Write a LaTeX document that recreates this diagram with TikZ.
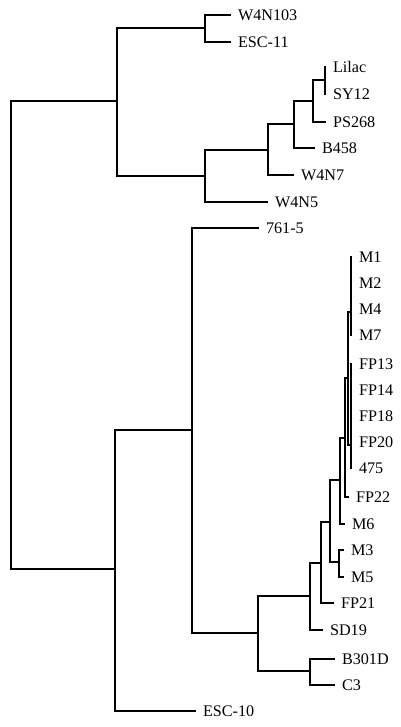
\documentclass[tikz,border=0pt]{standalone}
\usepackage{fontspec}
\setmainfont{Liberation Serif}
\usetikzlibrary{positioning}

\begin{document}
\begin{tikzpicture}[x=0.025cm,y=-0.025cm,
    leaf/.style={anchor=west,inner xsep=5.5pt,inner ysep=1pt,font=\fontsize{11.5}{13}\selectfont},
    branch/.style={line width=1.1pt,line cap=rect},
    elbow/.style={to path={|- (\tikztotarget)}}]
   \useasboundingbox (0,0) rectangle (400,727);
   % leaves
   \node[leaf] (w4n103) at (230,15)  {W4N103};
   \node[leaf] (esc11)  at (230,42)  {ESC-11};
   \node[leaf] (lilac)  at (325,67)  {Lilac};
   \node[leaf] (sy12)   at (325,94)  {SY12};
   \node[leaf] (ps268)  at (325,122) {PS268};
   \node[leaf] (b458)   at (314,148) {B458};
   \node[leaf] (w4n7)   at (293,175) {W4N7};
   \node[leaf] (w4n5)   at (267,202) {W4N5};
   \node[leaf] (s761)   at (258,228) {761-5};
   \node[leaf] (m1)     at (351,257) {M1};
   \node[leaf] (m2)     at (351,283) {M2};
   \node[leaf] (m4)     at (351,309) {M4};
   \node[leaf] (m7)     at (351,335) {M7};
   \node[leaf] (fp13)   at (351,364) {FP13};
   \node[leaf] (fp14)   at (351,390) {FP14};
   \node[leaf] (fp18)   at (351,416) {FP18};
   \node[leaf] (fp20)   at (351,442) {FP20};
   \node[leaf] (s475)   at (351,468) {475};
   \node[leaf] (fp22)   at (348,497) {FP22};
   \node[leaf] (m6)     at (344,524) {M6};
   \node[leaf] (m3)     at (343,550) {M3};
   \node[leaf] (m5)     at (343,577) {M5};
   \node[leaf] (fp21)   at (333,603) {FP21};
   \node[leaf] (sd19)   at (322,630) {SD19};
   \node[leaf] (b301d)  at (334,659) {B301D};
   \node[leaf] (c3)     at (334,685) {C3};
   \node[leaf] (esc10)  at (195,711) {ESC-10};
   % inner nodes
   \coordinate (root) at (11,335);
   \coordinate (u)    at (117,101);
   \coordinate (u_1)  at (205,28);
   \coordinate (u_2)  at (205,176);
   \coordinate (u_3)  at (268,150);
   \coordinate (u_4)  at (294,124);
   \coordinate (u_5)  at (313,101);
   \coordinate (u_6)  at (325,80);
   \coordinate (l)    at (115,569);
   \coordinate (l_1)  at (192,430);
   \coordinate (l_2)  at (258,633);
   \coordinate (l_3)  at (310,596);
   \coordinate (l_4)  at (310,671);
   \coordinate (l_5)  at (321,563);
   \coordinate (l_6)  at (330,522);
   \coordinate (l_7)  at (340,480);
   \coordinate (l_8)  at (345,438);
   \coordinate (l_9)  at (348,378);
   \coordinate (m35)  at (339,562);
   \coordinate (ma)   at (351,312);
   \coordinate (fpb)  at (351,445);
    \path[branch]
    (root) edge[elbow] (u)
    (root) edge[elbow] (l)
    (u) edge[elbow] (u_1)
    (u) edge[elbow] (u_2)
    (u_1) edge[elbow] (w4n103.west)
    (u_1) edge[elbow] (esc11.west)
    (u_2) edge[elbow] (u_3)
    (u_2) edge[elbow] (w4n5.west)
    (u_3) edge[elbow] (u_4)
    (u_3) edge[elbow] (w4n7.west)
    (u_4) edge[elbow] (u_5)
    (u_4) edge[elbow] (b458.west)
    (u_5) edge[elbow] (u_6)
    (u_5) edge[elbow] (ps268.west)
    (u_6) edge[elbow] (lilac.west)
    (u_6) edge[elbow] (sy12.west)
    (l) edge[elbow] (l_1)
    (l) edge[elbow] (esc10.west)
    (l_1) edge[elbow] (s761.west)
    (l_1) edge[elbow] (l_2)
    (l_2) edge[elbow] (l_3)
    (l_2) edge[elbow] (l_4)
    (l_4) edge[elbow] (b301d.west)
    (l_4) edge[elbow] (c3.west)
    (l_3) edge[elbow] (l_5)
    (l_3) edge[elbow] (sd19.west)
    (l_5) edge[elbow] (l_6)
    (l_5) edge[elbow] (fp21.west)
    (l_6) edge[elbow] (l_7)
    (l_6) edge[elbow] (m35)
    (m35) edge[elbow] (m3.west)
    (m35) edge[elbow] (m5.west)
    (l_7) edge[elbow] (l_8)
    (l_7) edge[elbow] (m6.west)
    (l_8) edge[elbow] (l_9)
    (l_8) edge[elbow] (fp22.west)
    (l_9) edge[elbow] (ma)
    (l_9) edge[elbow] (fpb)
    (ma) edge[elbow] (m1.west)
    (ma) edge[elbow] (m2.west)
    (ma) edge[elbow] (m4.west)
    (ma) edge[elbow] (m7.west)
    (fpb) edge[elbow] (fp13.west)
    (fpb) edge[elbow] (fp14.west)
    (fpb) edge[elbow] (fp18.west)
    (fpb) edge[elbow] (fp20.west)
    (fpb) edge[elbow] (s475.west);
\end{tikzpicture}
\end{document}
